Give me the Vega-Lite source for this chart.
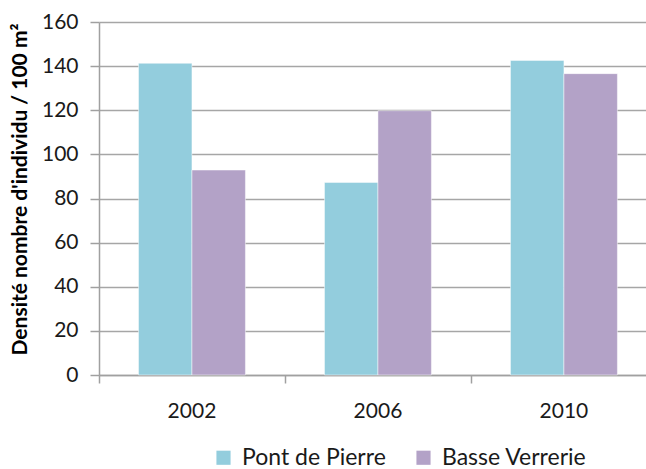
{
  "$schema": "https://vega.github.io/schema/vega-lite/v6.json",
  "width": 547,
  "height": 353,
  "autosize": {"type": "none"},
  "padding": {"left": 99, "top": 22, "right": 0, "bottom": 94},
  "background": "#ffffff",
  "config": {
    "view": {"stroke": null},
    "font": "Lato",
    "axis": {"labelFont": "Lato", "titleFont": "Lato"}
  },
  "data": {
    "values": [
      {"annee": "2002", "site": "Pont de Pierre", "densite": 141.3},
      {"annee": "2002", "site": "Basse Verrerie", "densite": 92.9},
      {"annee": "2006", "site": "Pont de Pierre", "densite": 87.3},
      {"annee": "2006", "site": "Basse Verrerie", "densite": 119.8},
      {"annee": "2010", "site": "Pont de Pierre", "densite": 142.6},
      {"annee": "2010", "site": "Basse Verrerie", "densite": 136.6}
    ]
  },
  "mark": {"type": "bar", "stroke": "#ffffff", "strokeWidth": 0.8, "strokeOpacity": 0.6},
  "encoding": {
    "x": {
      "field": "annee",
      "type": "nominal",
      "scale": {"paddingInner": 0.425, "paddingOuter": 0.183, "align": 0.58},
      "axis": {
        "title": null,
        "labelAngle": 0,
        "labelFontSize": 21,
        "labelColor": "#1a1a1a",
        "labelPadding": 17,
        "tickSize": 8,
        "tickColor": "#a0a0a0",
        "tickWidth": 1.5,
        "domainColor": "#a0a0a0",
        "domainWidth": 1.5,
        "bandPosition": -0.369,
        "grid": false
      }
    },
    "xOffset": {"field": "site", "type": "nominal", "sort": ["Pont de Pierre", "Basse Verrerie"]},
    "y": {
      "field": "densite",
      "type": "quantitative",
      "scale": {"domain": [0, 160], "nice": false},
      "axis": {
        "title": "Densité nombre d'individu / 100 m²",
        "titleFontSize": 21,
        "titleFontWeight": "bold",
        "titleColor": "#000000",
        "titleX": -79,
        "titleY": 167,
        "titleAngle": -90,
        "titleAlign": "center",
        "titleBaseline": "middle",
        "values": [0, 20, 40, 60, 80, 100, 120, 140, 160],
        "labelFontSize": 21,
        "labelColor": "#1a1a1a",
        "labelPadding": 12,
        "tickSize": 9,
        "tickColor": "#a0a0a0",
        "tickWidth": 1.5,
        "domainColor": "#a0a0a0",
        "domainWidth": 1.5,
        "gridColor": "#a6a6a6",
        "gridWidth": 1.5
      }
    },
    "color": {
      "field": "site",
      "type": "nominal",
      "sort": ["Pont de Pierre", "Basse Verrerie"],
      "scale": {"domain": ["Pont de Pierre", "Basse Verrerie"], "range": ["#93cddd", "#b3a2c7"]},
      "legend": {
        "title": null,
        "orient": "none",
        "direction": "horizontal",
        "legendX": 113,
        "legendY": 424,
        "symbolType": "square",
        "symbolSize": 200,
        "symbolStrokeWidth": 0,
        "labelFontSize": 23,
        "labelColor": "#1a1a1a",
        "labelOffset": 7,
        "columnPadding": 26,
        "labelExpr": "datum.value == 'Basse Verrerie' ? '\u2003\u2009Basse Verrerie' : datum.label"
      }
    }
  }
}
